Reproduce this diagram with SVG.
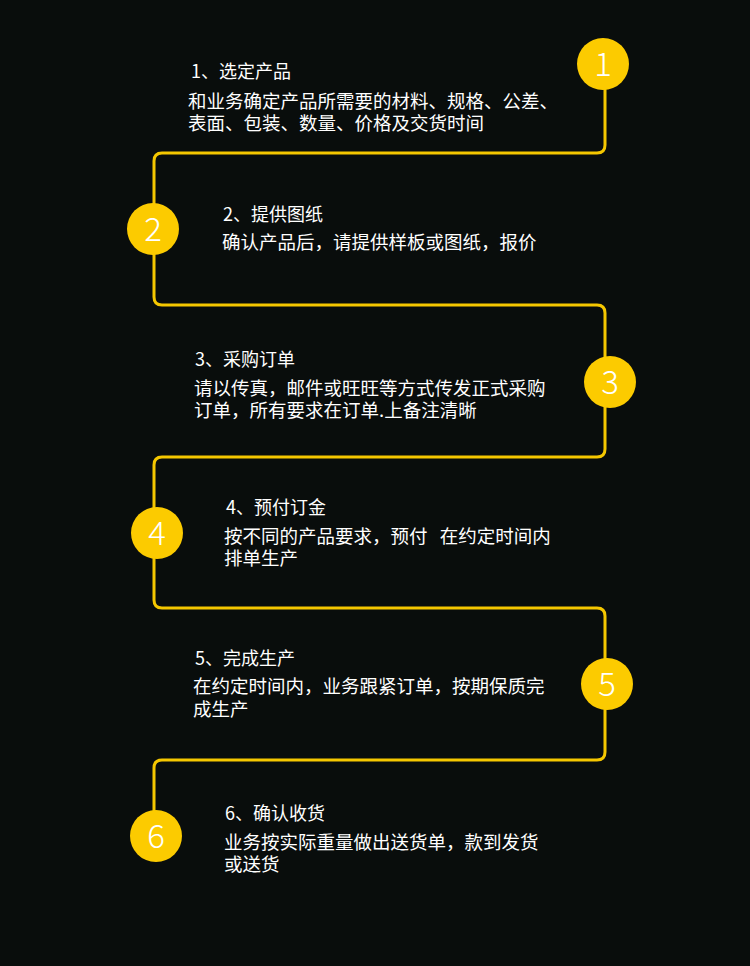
<svg xmlns="http://www.w3.org/2000/svg" width="750" height="966" viewBox="0 0 750 966">
<style>
.bg{fill:#090d0c}
.wire{fill:none;stroke:#f5c700;stroke-width:3;stroke-linejoin:round}
.dot{fill:#fccb00}
.num{fill:#ffffff;font-family:"Noto Sans CJK SC","Noto Sans","Open Sans",sans-serif;font-weight:300;font-size:33px;text-anchor:middle}
.t{fill:#ffffff;font-family:"Noto Sans CJK SC","Noto Sans CJK JP",sans-serif;font-size:18px}
.b{fill:#ffffff;font-family:"Noto Sans CJK SC","Noto Sans CJK JP",sans-serif;font-size:18.5px}
</style>
<rect class="bg" x="0" y="0" width="750" height="966"/>
<g id="connectors">
<path class="wire" d="M605 88 V145 Q605 153 597 153 H162 Q154 153 154 161 V297 Q154 305 162 305 H597 Q605 305 605 313 V449 Q605 457 597 457 H162 Q154 457 154 465 V600 Q154 608 162 608 H597 Q605 608 605 616 V752 Q605 760 597 760 H162 Q154 760 154 768 V812"/>
</g>
<g id="step1">
<circle class="dot" cx="603" cy="64" r="26"/>
<text class="num" x="603" y="76">1</text>
<text class="t" x="191" y="78">1、选定产品</text>
<text class="b" x="188" y="108">和业务确定产品所需要的材料、规格、公差、<tspan x="188" dy="22">表面、包装、数量、价格及交货时间</tspan></text>
</g>
<g id="step2">
<circle class="dot" cx="153" cy="229" r="26"/>
<text class="num" x="153" y="241">2</text>
<text class="t" x="223" y="221">2、提供图纸</text>
<text class="b" x="222" y="249">确认产品后，请提供样板或图纸，报价</text>
</g>
<g id="step3">
<circle class="dot" cx="610" cy="382" r="26"/>
<text class="num" x="610" y="394">3</text>
<text class="t" x="195" y="366">3、采购订单</text>
<text class="b" x="194" y="395">请以传真，邮件或旺旺等方式传发正式采购<tspan x="194" dy="22">订单，所有要求在订单.上备注清晰</tspan></text>
</g>
<g id="step4">
<circle class="dot" cx="157" cy="533" r="26"/>
<text class="num" x="157" y="545">4</text>
<text class="t" x="226" y="514">4、预付订金</text>
<text class="b" x="224" y="543">按不同的产品要求，预付 <tspan dx="8">在约定时间内</tspan><tspan x="224" dy="22">排单生产</tspan></text>
</g>
<g id="step5">
<circle class="dot" cx="607" cy="684" r="26"/>
<text class="num" x="607" y="696">5</text>
<text class="t" x="195" y="665">5、完成生产</text>
<text class="b" x="193" y="693">在约定时间内，业务跟紧订单，按期保质完<tspan x="193" dy="23">成生产</tspan></text>
</g>
<g id="step6">
<circle class="dot" cx="156" cy="836" r="26"/>
<text class="num" x="156" y="848">6</text>
<text class="t" x="225" y="820">6、确认收货</text>
<text class="b" x="224" y="849">业务按实际重量做出送货单，款到发货<tspan x="224" dy="22">或送货</tspan></text>
</g>
</svg>
